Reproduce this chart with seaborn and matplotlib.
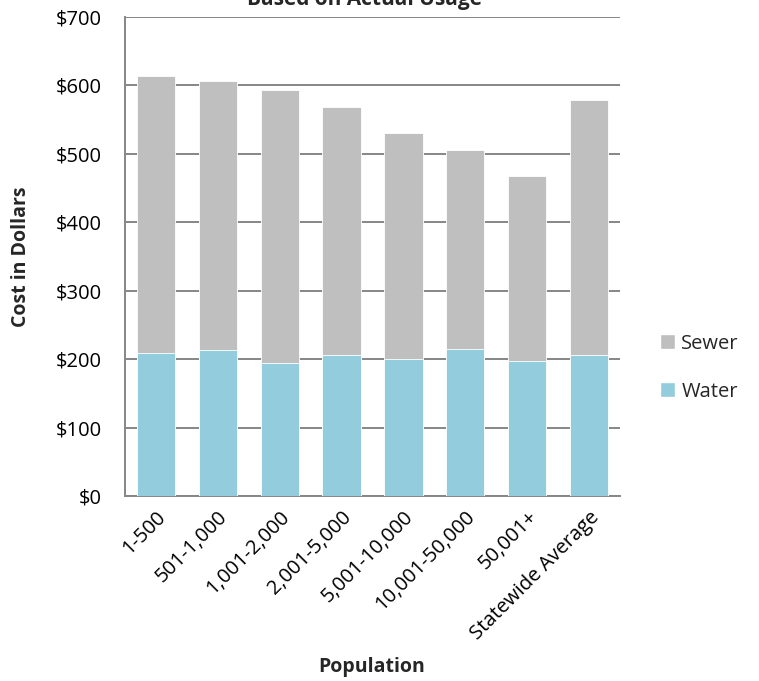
import numpy as np
import pandas as pd
import seaborn as sns
import matplotlib.pyplot as plt
from matplotlib.patches import Patch
from matplotlib.ticker import FuncFormatter

# data
population = ["1-500", "501-1,000", "1,001-2,000", "2,001-5,000",
              "5,001-10,000", "10,001-50,000", "50,001+", "Statewide Average"]
water = [209, 213, 194, 206, 200, 215, 197, 206]
sewer = [405, 393, 400, 363, 331, 291, 271, 373]

df = pd.DataFrame({"Population": population, "Water": water, "Sewer": sewer})
df["Total"] = df["Water"] + df["Sewer"]

sns.set_theme(style="white")
plt.rcParams["font.family"] = ["Open Sans", "DejaVu Sans"]

water_color = "#93CDDD"
sewer_color = "#BFBFBF"
grid_color = "#868686"

fig = plt.figure(figsize=(7.59, 6.81), dpi=100)
ax = fig.add_axes([125 / 759, 1 - 496 / 681, 495 / 759, 479 / 681])

# stacked bars: total in sewer colour, water drawn over it
sns.barplot(data=df, x="Population", y="Total", color=sewer_color, width=0.62,
            saturation=1, ax=ax, zorder=3)
sns.barplot(data=df, x="Population", y="Water", color=water_color, width=0.62,
            saturation=1, ax=ax, zorder=4)
for p in ax.patches:
    p.set_edgecolor("white")
    p.set_linewidth(0.6)

ax.set_ylim(0, 700)
ax.set_yticks(np.arange(0, 701, 100))
ax.yaxis.set_major_formatter(FuncFormatter(lambda v, _: f"${int(v)}"))
ax.set_xlim(-0.5, len(population) - 0.5)
ax.grid(axis="y", color=grid_color, linewidth=1.4, zorder=0)
ax.set_axisbelow(True)
for side in ["top", "right"]:
    ax.spines[side].set_visible(False)
for side in ["left", "bottom"]:
    ax.spines[side].set_color(grid_color)
    ax.spines[side].set_linewidth(1.4)
ax.tick_params(axis="both", length=0, labelsize=14.5, colors="black")
ax.tick_params(axis="y", pad=17)
ax.tick_params(axis="x", pad=8)
plt.setp(ax.get_xticklabels(), rotation=45, ha="right", rotation_mode="anchor")

ax.set_xlabel("Population", fontsize=14, fontweight="bold")
ax.set_ylabel("Cost in Dollars", fontsize=14, fontweight="bold")
ax.xaxis.set_label_coords((372 - 125) / 495, -(657 - 496) / 479)
ax.yaxis.set_label_coords(-(125 - 31) / 495, 0.5)

fig.text(0.48, 1.0, "Based on Actual Usage", ha="center", va="center",
         fontsize=15, fontweight="bold")

handles = [Patch(facecolor=sewer_color, label="Sewer"),
           Patch(facecolor=water_color, label="Water")]
fig.legend(handles=handles, loc="center left", bbox_to_anchor=(0.846, 0.46),
           frameon=False, fontsize=14.5, handlelength=0.75, handleheight=0.75,
           handletextpad=0.3, labelspacing=1.4)

fig.savefig("out.png", dpi=100)
